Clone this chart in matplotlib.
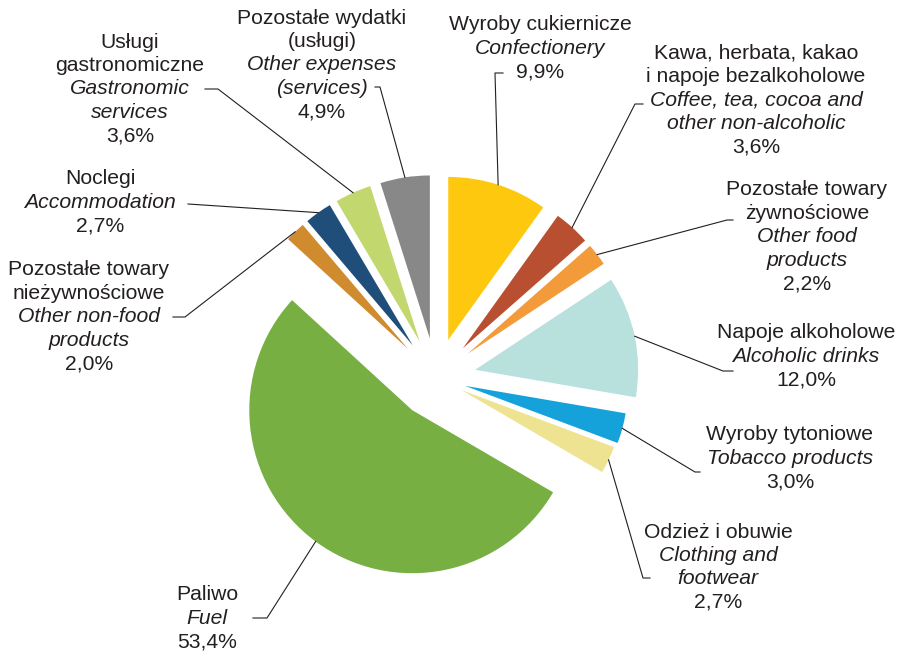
import numpy as np
import matplotlib.pyplot as plt

# dane
names_pl = ['Wyroby cukiernicze', 'Kawa, herbata, kakao\ni napoje bezalkoholowe',
            'Pozostałe towary\nżywnościowe', 'Napoje alkoholowe', 'Wyroby tytoniowe',
            'Odzież i obuwie', 'Paliwo', 'Pozostałe towary\nnieżywnościowe',
            'Noclegi', 'Usługi\ngastronomiczne', 'Pozostałe wydatki\n(usługi)']
names_en = ['Confectionery', 'Coffee, tea, cocoa and\nother non-alcoholic',
            'Other food\nproducts', 'Alcoholic drinks', 'Tobacco products',
            'Clothing and\nfootwear', 'Fuel', 'Other non-food\nproducts',
            'Accommodation', 'Gastronomic\nservices', 'Other expenses\n(services)']
values = [9.9, 3.6, 2.2, 12.0, 3.0, 2.7, 53.4, 2.0, 2.7, 3.6, 4.9]
colors = ['#FEC80F', '#B84F31', '#F39B3B', '#B8E0DD', '#15A2DA', '#EEE391',
          '#77AF43', '#D18B2F', '#1F4E7A', '#C2D86F', '#878887']

# layout (pixels, y from top)
W, H = 903, 651
explode = [40, 40, 40, 40, 30, 28, 40, 40, 40, 40, 40]  # w pikselach
label_xy = [(540, 25), (756, 53), (807, 190), (806, 333), (790, 435), (718, 532),
            (207, 595), (89, 270), (100, 179), (130, 42), (322, 18)]
leader_pts = [[(495, 73), (503, 73)], [(635, 104), (643, 104)], [(727, 220), (733, 220)],
              [(723, 371), (733, 371)], [(695, 472), (700, 472)], [(643, 578), (650, 578)],
              [(267, 618), (253, 618)], [(185, 317), (173, 317)], [(188, 204)],
              [(218, 89), (205, 89)], [(380, 87), (375, 87)]]
step = 23.5
txt_color = '#231F20'

fig = plt.figure(figsize=(W / 100, H / 100), dpi=100)
ax = fig.add_axes([0, 0, 1, 1])
ax.set_xlim(0, W)
ax.set_ylim(0, H)
ax.set_aspect('equal')
ax.axis('off')

wedges, _ = ax.pie(values, colors=colors, startangle=90, counterclock=False,
                   center=(436, H - 378), radius=163, explode=explode,
                   wedgeprops=dict(linewidth=0))
ax.set_xlim(0, W)
ax.set_ylim(0, H)

for i, w in enumerate(wedges):
    ang = np.deg2rad((w.theta1 + w.theta2) / 2)
    x0 = w.center[0] + w.r * np.cos(ang)
    y0 = w.center[1] + w.r * np.sin(ang)
    xs = [x0] + [p[0] for p in leader_pts[i]]
    ys = [y0] + [H - p[1] for p in leader_pts[i]]
    ax.plot(xs, ys, color=txt_color, lw=0.8)

    lines = [(t, 'normal') for t in names_pl[i].split('\n')]
    lines += [(t, 'italic') for t in names_en[i].split('\n')]
    lines.append((f'{values[i]:.1f}%'.replace('.', ','), 'normal'))
    cx, cy = label_xy[i]
    for k, (t, st) in enumerate(lines):
        ax.text(cx, H - (cy + k * step), t, ha='center', va='center', style=st,
                fontsize=15.2, family='Liberation Sans', color=txt_color)

fig.savefig('out.png', dpi=100)
